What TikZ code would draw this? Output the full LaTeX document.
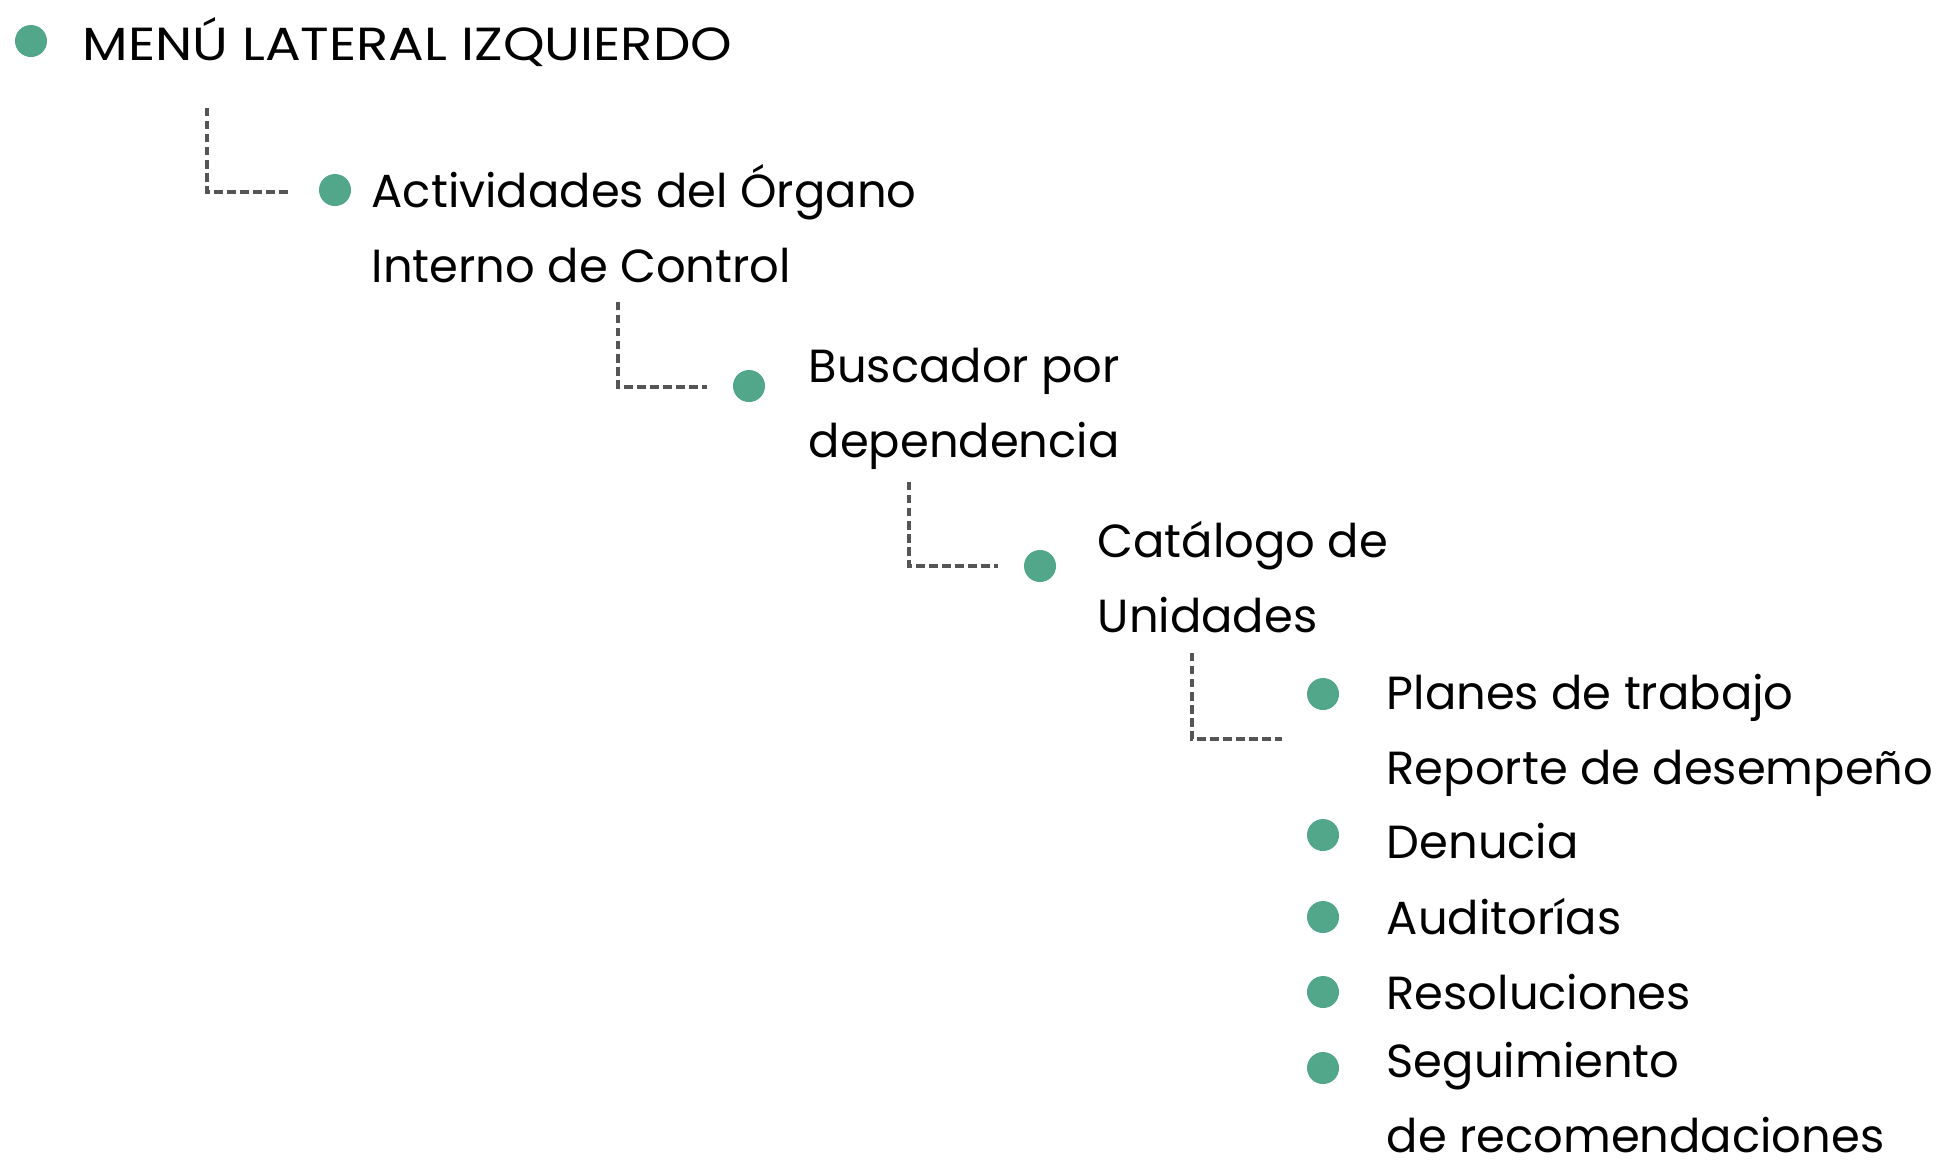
\documentclass[tikz,border=0pt]{standalone}
\usepackage{fontspec}
\setmainfont{Poppins}
\usetikzlibrary{positioning}

\definecolor{bulletgreen}{RGB}{82,166,138}
\definecolor{linkgray}{RGB}{85,85,85}

\tikzset{
  bullet/.style={circle,fill=bulletgreen,inner sep=0pt,minimum size=0.32cm},
  entry/.style={anchor=base west,inner sep=0pt,align=left,
    font=\fontsize{13.2pt}{21.3pt}\selectfont},
  link/.style={draw=linkgray,line width=1.4pt,dash pattern=on 2.4pt off 1.3pt}
}

\begin{document}
\begin{tikzpicture}[x=0.01cm,y=-0.01cm]
\useasboundingbox (0,0) rectangle (1946,1159);

% Root
\node[bullet] (b0) at (31,41) {};
\node[entry] (t0) at (82,60) {\addfontfeatures{FakeStretch=1.14}MENÚ LATERAL IZQUIERDO};

% Level 1 (base = last line)
\node[bullet] (b1) at (335,190) {};
\node[entry] (t1) at (371,282) {Actividades del Órgano\\Interno de Control};

% Level 2
\node[bullet] (b2) at (749,386) {};
\node[entry] (t2) at (808,457) {Buscador por\\dependencia};

% Level 3
\node[bullet] (b3) at (1040,566) {};
\node[entry] (t3) at (1097,632) {Catálogo de\\Unidades};

% Level 4
\node[bullet] (b4) at (1323,694) {};
\node[entry] (t4) at (1386,784) {Planes de trabajo\\Reporte de desempeño};
\node[bullet] (b5) at (1323,835) {};
\node[entry] (t5) at (1386,858) {Denucia};
\node[bullet] (b6) at (1323,917) {};
\node[entry] (t6) at (1386,934) {Auditorías};
\node[bullet] (b7) at (1323,992) {};
\node[entry] (t7) at (1386,1009) {Resoluciones};
\node[bullet] (b8) at (1323,1068) {};
\node[entry] (t8) at (1386,1152) {Seguimiento\\de recomendaciones};

% Links
\coordinate (k1a) at (207,108);
\coordinate (k1b) at (288,192);
\coordinate (k2a) at (618,302);
\coordinate (k2b) at (707,387);
\coordinate (k3a) at (909,482);
\coordinate (k3b) at (998,566);
\coordinate (k4a) at (1192,653);
\coordinate (k4b) at (1282,739);
\draw[link] (k1a) |- (k1b);
\draw[link] (k2a) |- (k2b);
\draw[link] (k3a) |- (k3b);
\draw[link] (k4a) |- (k4b);
\end{tikzpicture}
\end{document}
